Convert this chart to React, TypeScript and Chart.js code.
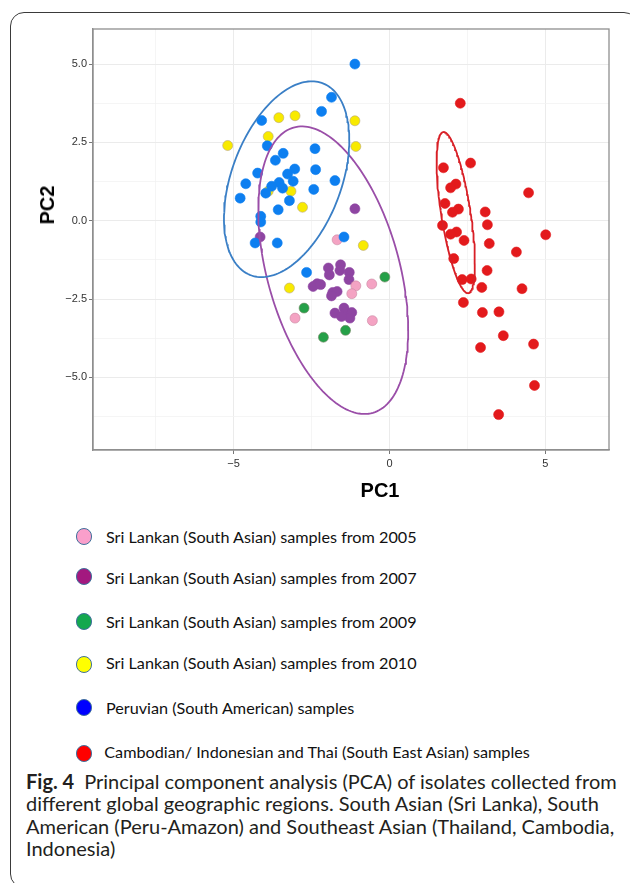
import React, { useEffect, useRef } from "react";
import { Chart, registerables } from "chart.js";
Chart.register(...registerables);

// Axis ticks (major ticks carry labels, minor ticks only carry grid lines)
const xTicks = [-7.5, -5, -2.5, 0, 2.5, 5];
const xMajor = [-5, 0, 5];
const yTicks = [-6.25, -5, -3.75, -2.5, -1.25, 0, 1.25, 2.5, 3.75, 5];
const yMajor = [-5, -2.5, 0, 2.5, 5];
const xRange = [-9.51, 7.04];
const yRange = [-7.32, 6.12];

// PCA scores (PC1, PC2)
const sl2005: [number, number][] = [
  [-1.68, -0.61], [-1.08, -2.08], [-0.57, -2.02], [-1.21, -2.33], [-3.03, -3.11], [-0.55, -3.19],
];
const sl2007: [number, number][] = [
  [-1.11, 0.38], [-4.15, -0.52], [-1.96, -1.51], [-1.57, -1.41], [-1.59, -1.59], [-1.93, -1.73],
  [-1.29, -1.65], [-1.3, -1.88], [-2.32, -2.01], [-2.45, -2.1], [-2.21, -2.04], [-1.82, -2.29],
  [-1.68, -2.26], [-1.86, -2.4], [-1.75, -2.95], [-1.46, -2.79], [-1.4, -2.93], [-1.21, -2.93],
  [-1.27, -3.11], [-1.54, -3.06],
];
const sl2009: [number, number][] = [
  [-0.15, -1.8], [-2.74, -2.79], [-1.41, -3.5], [-2.12, -3.72],
];
const sl2010: [number, number][] = [
  [-5.19, 2.4], [-3.55, 3.29], [-3.03, 3.35], [-1.11, 3.19], [-3.89, 2.69], [-1.08, 2.37],
  [-3.89, 0.94], [-3.16, 0.94], [-2.79, 0.43], [-0.84, -0.79], [-3.21, -2.15],
];
const peru: [number, number][] = [
  [-1.11, 5.0], [-1.86, 3.94], [-2.18, 3.49], [-4.1, 3.2], [-3.92, 2.39], [-3.41, 2.15],
  [-2.39, 2.3], [-3.66, 1.93], [-3.04, 1.65], [-2.37, 1.63], [-3.27, 1.49], [-4.23, 1.52],
  [-3.09, 1.26], [-1.75, 1.28], [-4.61, 1.18], [-3.54, 1.22], [-3.78, 1.1], [-3.43, 1.04],
  [-3.97, 0.88], [-2.43, 1.0], [-4.79, 0.72], [-3.21, 0.64], [-3.57, 0.35], [-4.13, 0.14],
  [-4.13, -0.04], [-4.31, -0.71], [-3.6, -0.71], [-1.46, -0.52], [-2.66, -1.65],
];
const seAsia: [number, number][] = [
  [2.27, 3.75], [2.6, 1.84], [1.73, 1.69], [2.13, 1.17], [1.96, 1.05], [4.46, 0.89],
  [1.78, 0.55], [2.21, 0.37], [2.02, 0.27], [3.07, 0.28], [3.14, -0.13], [1.7, -0.15],
  [5.01, -0.45], [2.15, -0.36], [1.96, -0.43], [2.39, -0.63], [3.2, -0.73], [4.07, -1.0],
  [2.06, -1.21], [3.13, -1.59], [2.33, -1.88], [2.62, -1.86], [2.96, -2.13], [4.25, -2.17],
  [2.37, -2.61], [2.98, -2.93], [3.51, -2.91], [3.65, -3.67], [2.92, -4.05], [4.62, -3.94],
  [4.65, -5.26], [3.5, -6.19],
];

// Confidence ellipses: centre and shape (covariance-like)
const ellipsePeru = { cx: -3.3, cy: 1.325, sxx: 4.04, syy: 9.77, sxy: 2.52 };
const ellipseSriLanka = { cx: -1.805, cy: -1.58, sxx: 5.78, syy: 21.07, sxy: -4.6 };
const ellipseSEAsia = { cx: 2.125, cy: 0.26, sxx: 0.378, syy: 6.61, sxy: -1.0 };

const legendLabels = [
  "Sri Lankan (South Asian) samples from 2005",
  "Sri Lankan (South Asian) samples from 2007",
  "Sri Lankan (South Asian) samples from 2009",
  "Sri Lankan (South Asian) samples from 2010",
  "Peruvian (South American) samples",
  "Cambodian/ Indonesian and Thai (South East Asian) samples",
];
const legendColors = ["#fa9fcb", "#a3187f", "#14a84f", "#ffff00", "#0000ff", "#ff0000"];

function ellipsePoints(e: { cx: number; cy: number; sxx: number; syy: number; sxy: number }) {
  const a = Math.sqrt(e.sxx);
  const b = e.sxy / a;
  const d = Math.sqrt(e.syy - b * b);
  const pts: { x: number; y: number }[] = [];
  const n = 180;
  for (let i = 0; i <= n; i++) {
    const t = (i / n) * 2 * Math.PI;
    pts.push({ x: e.cx + a * Math.cos(t), y: e.cy + b * Math.cos(t) + d * Math.sin(t) });
  }
  return pts;
}

const toXY = (arr: [number, number][]) => arr.map(([x, y]) => ({ x, y }));
const isIn = (list: number[], v: number) => list.some((m) => Math.abs(m - v) < 1e-9);
const minus = (s: string) => s.replace("-", "\u2212");

const panelBorder = {
  id: "panelBorder",
  beforeDatasetsDraw(chart: any) {
    const { ctx, chartArea } = chart;
    ctx.save();
    ctx.strokeStyle = "#8f8f8f";
    ctx.lineWidth = 1.3;
    ctx.strokeRect(chartArea.left, chartArea.top, chartArea.right - chartArea.left, chartArea.bottom - chartArea.top);
    ctx.restore();
  },
};

function scatterSet(label: string, data: [number, number][], fill: string, border: string) {
  return {
    type: "scatter" as const,
    label,
    data: toXY(data),
    backgroundColor: fill,
    borderColor: border,
    borderWidth: 0.6,
    pointRadius: 5,
    pointHoverRadius: 5,
  };
}

function ellipseSet(label: string, e: any, color: string) {
  return {
    type: "line" as const,
    label,
    data: ellipsePoints(e),
    borderColor: color,
    backgroundColor: color,
    borderWidth: 1.8,
    pointRadius: 0,
    fill: false,
    tension: 0,
  };
}

function PcaChart() {
  const ref = useRef<HTMLCanvasElement | null>(null);
  useEffect(() => {
    if (!ref.current) return;
    const tickFont = { family: "'Liberation Sans', Arial, sans-serif", size: 11 };
    const chart = new Chart(ref.current, {
      type: "scatter",
      data: {
        datasets: [
          ellipseSet("Peru ellipse", ellipsePeru, "#3a7fc6"),
          ellipseSet("Sri Lanka ellipse", ellipseSriLanka, "#9a4ea8"),
          ellipseSet("SE Asia ellipse", ellipseSEAsia, "#d81f26"),
          scatterSet("SE Asia", seAsia, "#e31a1c", "#e31a1c"),
          scatterSet("Peru", peru, "#0d7ff0", "#0d7ff0"),
          scatterSet("2009", sl2009, "#25a048", "#7a8a6a"),
          scatterSet("2005", sl2005, "#f4a3c3", "#c98aa3"),
          scatterSet("2010", sl2010, "#f8ea00", "#b9a67e"),
          scatterSet("2007", sl2007, "#8e45a2", "#8e45a2"),
        ] as any,
      },
      options: {
        animation: false,
        responsive: false,
        devicePixelRatio: 1,
        events: [],
        layout: { autoPadding: false, padding: { top: 29, right: 21, left: 0, bottom: 0 } },
        plugins: { legend: { display: false }, tooltip: { enabled: false }, title: { display: false } },
        scales: {
          x: {
            type: "linear",
            min: xRange[0],
            max: xRange[1],
            afterBuildTicks: (s: any) => {
              s.ticks = xTicks.map((v) => ({ value: v }));
            },
            afterFit: (s: any) => {
              s.height = 70;
            },
            ticks: {
              autoSkip: false,
              maxRotation: 0,
              padding: 3,
              color: "#333333",
              font: tickFont,
              callback: (v: any) => (isIn(xMajor, v) ? minus(String(v)) : ""),
            },
            grid: {
              color: (c: any) => (c.tick && isIn(xMajor, c.tick.value) ? "#ebebeb" : "#f3f3f3"),
              lineWidth: (c: any) => (c.tick && isIn(xMajor, c.tick.value) ? 1 : 0.8),
              tickLength: 4,
              tickColor: (c: any) => (c.tick && isIn(xMajor, c.tick.value) ? "#777777" : "rgba(0,0,0,0)"),
              tickWidth: 1,
            },
            border: { display: true, color: "#8f8f8f", width: 1.3 },
          },
          y: {
            type: "linear",
            min: yRange[0],
            max: yRange[1],
            afterBuildTicks: (s: any) => {
              s.ticks = yTicks.map((v) => ({ value: v }));
            },
            afterFit: (s: any) => {
              s.width = 93;
            },
            ticks: {
              autoSkip: false,
              padding: 2,
              color: "#333333",
              font: tickFont,
              callback: (v: any) => (isIn(yMajor, v) ? minus(Number(v).toFixed(1)) : ""),
            },
            grid: {
              color: (c: any) => (c.tick && isIn(yMajor, c.tick.value) ? "#ebebeb" : "#f3f3f3"),
              lineWidth: (c: any) => (c.tick && isIn(yMajor, c.tick.value) ? 1 : 0.8),
              tickLength: 4,
              tickColor: (c: any) => (c.tick && isIn(yMajor, c.tick.value) ? "#777777" : "rgba(0,0,0,0)"),
              tickWidth: 1,
            },
            border: { display: true, color: "#8f8f8f", width: 1.3 },
          },
        },
      } as any,
      plugins: [panelBorder],
    });
    return () => chart.destroy();
  }, []);
  return <canvas ref={ref} width={630} height={520} style={{ position: "absolute", left: 0, top: 0, width: 630, height: 520 }} />;
}

const legendTextY = [536.7, 578, 621.7, 663, 707.7, 752.3];
const legendDotY = [536.7, 576.7, 621.7, 664.3, 707.3, 753.3];
const legendTextX = [106, 106, 106, 106, 106, 104.3];

export default function App() {
  return (
    <div style={{ position: "absolute", left: 0, top: 0, width: 630, height: 883, background: "#ffffff", overflow: "hidden" }}>
      <div
        style={{
          position: "absolute",
          left: 10,
          top: 12,
          width: 628,
          height: 876,
          border: "1.3px solid #3a3a3a",
          borderRadius: 14,
          boxSizing: "border-box",
        }}
      />
      <PcaChart />
      <div
        style={{
          position: "absolute",
          left: 380,
          top: 490,
          transform: "translate(-50%, -50%)",
          fontFamily: "'Liberation Sans', Arial, sans-serif",
          fontWeight: 700,
          fontSize: 20,
          color: "#000",
          whiteSpace: "nowrap",
          lineHeight: 1,
        }}
      >
        PC1
      </div>
      <div
        style={{
          position: "absolute",
          left: 47,
          top: 205,
          transform: "translate(-50%, -50%) rotate(-90deg)",
          fontFamily: "'Liberation Sans', Arial, sans-serif",
          fontWeight: 700,
          fontSize: 20,
          color: "#000",
          whiteSpace: "nowrap",
          lineHeight: 1,
        }}
      >
        PC2
      </div>
      {legendLabels.map((label, i) => (
        <React.Fragment key={label}>
          <div
            style={{
              position: "absolute",
              left: 84 - 8.3,
              top: legendDotY[i] - 8.3,
              width: 16.6,
              height: 16.6,
              borderRadius: "50%",
              background: legendColors[i],
              border: "1.6px solid #41719c",
              boxSizing: "border-box",
            }}
          />
          <div
            style={{
              position: "absolute",
              left: legendTextX[i],
              top: legendTextY[i],
              transform: "translateY(-50%)",
              fontFamily: "Lato, 'Open Sans', sans-serif",
              fontSize: 16.2,
              color: "#111",
              whiteSpace: "nowrap",
              lineHeight: 1.2,
            }}
          >
            {label}
          </div>
        </React.Fragment>
      ))}
      <div
        style={{
          position: "absolute",
          left: 26,
          top: 770,
          fontFamily: "Lato, 'Open Sans', sans-serif",
          fontSize: 20,
          lineHeight: "22.3px",
          color: "#231f20",
          whiteSpace: "nowrap",
        }}
      >
        <span style={{ fontWeight: 700 }}>Fig. 4</span>
        {"\u2002Principal component analysis (PCA) of isolates collected from"}
        <br />
        different global geographic regions. South Asian (Sri Lanka), South
        <br />
        American (Peru-Amazon) and Southeast Asian (Thailand, Cambodia,
        <br />
        Indonesia)
      </div>
    </div>
  );
}
